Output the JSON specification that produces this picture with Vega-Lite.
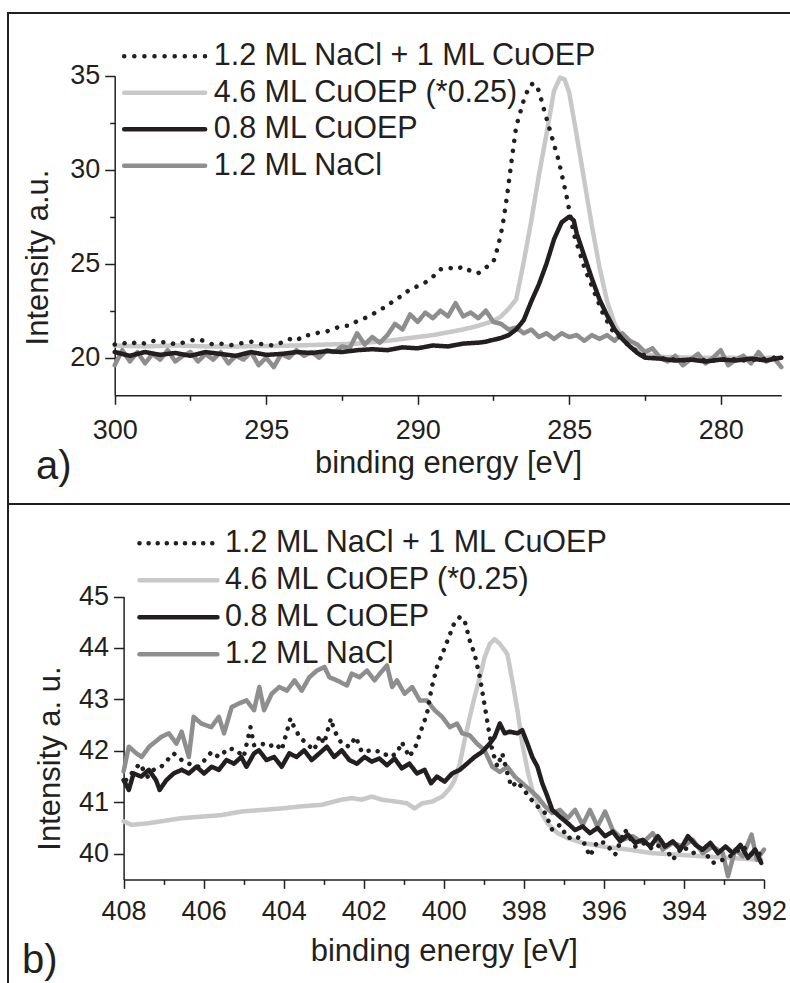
{
  "$schema": "https://vega.github.io/schema/vega-lite/v6.json",
  "padding": {"left": 7, "top": 12, "right": -9, "bottom": -12},
  "spacing": 0,
  "bounds": "flush",
  "config": {
    "font": "Liberation Sans",
    "view": {"stroke": "#231f20", "strokeWidth": 2},
    "axis": {
      "domainColor": "#231f20", "domainWidth": 1.5,
      "tickColor": "#231f20", "tickWidth": 1.5,
      "labelColor": "#231f20", "labelFontSize": 27,
      "titleColor": "#231f20", "titleFontSize": 31, "titleFontWeight": "normal",
      "grid": false, "labelFlush": false, "labelOverlap": false
    },
    "legend": {
      "title": null, "orient": "none", "symbolType": "M-5,0H5", "symbolStrokeWidth": 4.5,
      "labelFontSize": 30.5, "labelColor": "#231f20", "labelLimit": 0, "padding": 0
    },
    "line": {"strokeWidth": 4.5, "strokeCap": "round", "strokeJoin": "round"}
  },
  "resolve": {
    "scale": {"color": "independent", "strokeDash": "independent"},
    "legend": {"color": "independent", "strokeDash": "independent"}
  },
  "datasets": {
    "c1s_multi": [
      {"E":300,"I":20.65},{"E":299,"I":20.6},{"E":298,"I":20.65},{"E":297,"I":20.6},{"E":296,"I":20.6},{"E":295,"I":20.62},{"E":294,"I":20.65},{"E":293,"I":20.7},{"E":292,"I":20.75},{"E":291,"I":20.9},{"E":290,"I":21.1},{"E":289.5,"I":21.2},{"E":289,"I":21.35},{"E":288.5,"I":21.5},{"E":288,"I":21.7},{"E":287.5,"I":21.95},{"E":287.25,"I":22.2},{"E":287,"I":22.6},{"E":286.75,"I":23.1},{"E":286.5,"I":25.1},{"E":286.25,"I":27.3},{"E":286,"I":29.7},{"E":285.75,"I":31.9},{"E":285.5,"I":34.2},{"E":285.3,"I":34.9},{"E":285.15,"I":34.8},{"E":285,"I":34.1},{"E":284.75,"I":31.8},{"E":284.5,"I":29.4},{"E":284.25,"I":27},{"E":284,"I":24.8},{"E":283.75,"I":23},{"E":283.5,"I":21.8},{"E":283.25,"I":21.1},{"E":283,"I":20.6},{"E":282.5,"I":20.2},{"E":282,"I":20.05},{"E":281,"I":20},{"E":280,"I":20},{"E":279,"I":19.98},{"E":278,"I":20}
    ],
    "c1s_nacl": [
      {"E":300,"I":19.6},{"E":299.75,"I":20.4},{"E":299.5,"I":19.8},{"E":299.25,"I":20.3},{"E":299,"I":19.7},{"E":298.75,"I":20.2},{"E":298.5,"I":19.9},{"E":298.25,"I":20.4},{"E":298,"I":19.8},{"E":297.75,"I":20.1},{"E":297.5,"I":20.3},{"E":297.25,"I":19.8},{"E":297,"I":20.2},{"E":296.75,"I":19.9},{"E":296.5,"I":20.3},{"E":296.25,"I":19.7},{"E":296,"I":20.1},{"E":295.75,"I":19.9},{"E":295.5,"I":20.3},{"E":295.25,"I":19.6},{"E":295,"I":20},{"E":294.75,"I":19.5},{"E":294.5,"I":20.2},{"E":294.25,"I":20},{"E":294,"I":20.4},{"E":293.75,"I":20.1},{"E":293.5,"I":20.3},{"E":293.25,"I":20},{"E":293,"I":20.4},{"E":292.75,"I":20.3},{"E":292.5,"I":20.6},{"E":292.25,"I":20.5},{"E":292,"I":21.3},{"E":291.75,"I":20.7},{"E":291.5,"I":21.1},{"E":291.25,"I":20.8},{"E":291,"I":21.2},{"E":290.75,"I":21.8},{"E":290.5,"I":21.5},{"E":290.25,"I":22.3},{"E":290,"I":21.9},{"E":289.75,"I":22.4},{"E":289.5,"I":22.1},{"E":289.25,"I":22.5},{"E":289,"I":22.2},{"E":288.75,"I":22.9},{"E":288.5,"I":22.2},{"E":288.25,"I":22.4},{"E":288,"I":22.1},{"E":287.75,"I":22.5},{"E":287.5,"I":21.9},{"E":287.25,"I":21.8},{"E":287,"I":21.5},{"E":286.75,"I":21.6},{"E":286.5,"I":21.3},{"E":286.25,"I":21.5},{"E":286,"I":21.1},{"E":285.75,"I":21.3},{"E":285.5,"I":21},{"E":285.25,"I":21.3},{"E":285,"I":21.1},{"E":284.75,"I":21.2},{"E":284.5,"I":20.9},{"E":284.25,"I":21.2},{"E":284,"I":21},{"E":283.75,"I":21.2},{"E":283.5,"I":20.9},{"E":283.25,"I":21.3},{"E":283,"I":20.9},{"E":282.75,"I":20.7},{"E":282.5,"I":20.3},{"E":282.25,"I":20.5},{"E":282,"I":20},{"E":281.75,"I":19.8},{"E":281.5,"I":20.1},{"E":281.25,"I":19.6},{"E":281,"I":19.9},{"E":280.75,"I":20.2},{"E":280.5,"I":19.7},{"E":280.25,"I":20},{"E":280,"I":20.4},{"E":279.75,"I":19.6},{"E":279.5,"I":19.9},{"E":279.25,"I":20.1},{"E":279,"I":19.7},{"E":278.75,"I":20.3},{"E":278.5,"I":19.8},{"E":278.25,"I":20},{"E":278,"I":19.5}
    ],
    "c1s_mono": [
      {"E":300,"I":20.3},{"E":299.5,"I":20.1},{"E":299,"I":20.3},{"E":298.5,"I":20.15},{"E":298,"I":20.25},{"E":297.5,"I":20.1},{"E":297,"I":20.3},{"E":296.5,"I":20.2},{"E":296,"I":20.1},{"E":295.5,"I":20.3},{"E":295,"I":20.15},{"E":294.5,"I":20.2},{"E":294,"I":20.3},{"E":293.5,"I":20.25},{"E":293,"I":20.35},{"E":292.5,"I":20.3},{"E":292,"I":20.4},{"E":291.5,"I":20.45},{"E":291,"I":20.4},{"E":290.5,"I":20.55},{"E":290,"I":20.5},{"E":289.5,"I":20.65},{"E":289,"I":20.6},{"E":288.5,"I":20.75},{"E":288,"I":20.8},{"E":287.75,"I":20.85},{"E":287.5,"I":20.95},{"E":287.25,"I":21.05},{"E":287,"I":21.2},{"E":286.75,"I":21.5},{"E":286.5,"I":22},{"E":286.25,"I":23},{"E":286,"I":23.9},{"E":285.75,"I":25},{"E":285.5,"I":26.3},{"E":285.25,"I":27.2},{"E":285,"I":27.5},{"E":284.85,"I":27.3},{"E":284.75,"I":26.6},{"E":284.5,"I":25.4},{"E":284.25,"I":24.2},{"E":284,"I":23.1},{"E":283.75,"I":22.25},{"E":283.5,"I":21.5},{"E":283.25,"I":21},{"E":283,"I":20.6},{"E":282.75,"I":20.25},{"E":282.5,"I":20},{"E":282,"I":19.95},{"E":281.5,"I":19.85},{"E":281,"I":19.9},{"E":280.5,"I":19.8},{"E":280,"I":19.9},{"E":279.5,"I":19.85},{"E":279,"I":19.95},{"E":278.5,"I":19.85},{"E":278,"I":20}
    ],
    "c1s_mixed": [
      {"E":300,"I":20.7},{"E":299.75,"I":20.8},{"E":299.5,"I":20.7},{"E":299.25,"I":20.85},{"E":299,"I":20.75},{"E":298.75,"I":20.9},{"E":298.5,"I":20.8},{"E":298.25,"I":20.85},{"E":298,"I":20.7},{"E":297.75,"I":20.8},{"E":297.5,"I":20.9},{"E":297.25,"I":21},{"E":297,"I":20.85},{"E":296.75,"I":20.7},{"E":296.5,"I":20.75},{"E":296.25,"I":20.65},{"E":296,"I":20.7},{"E":295.75,"I":20.8},{"E":295.5,"I":20.85},{"E":295.25,"I":20.75},{"E":295,"I":20.7},{"E":294.75,"I":20.65},{"E":294.5,"I":20.8},{"E":294.25,"I":21},{"E":294,"I":20.9},{"E":293.75,"I":21.2},{"E":293.5,"I":21.2},{"E":293.25,"I":21.35},{"E":293,"I":21.4},{"E":292.75,"I":21.55},{"E":292.5,"I":21.7},{"E":292.25,"I":21.7},{"E":292,"I":21.95},{"E":291.75,"I":22.1},{"E":291.5,"I":22.3},{"E":291.25,"I":22.55},{"E":291,"I":22.75},{"E":290.75,"I":23.1},{"E":290.5,"I":23.3},{"E":290.25,"I":23.65},{"E":290,"I":23.8},{"E":289.75,"I":24},{"E":289.5,"I":24.3},{"E":289.25,"I":24.7},{"E":289,"I":24.8},{"E":288.75,"I":24.7},{"E":288.5,"I":24.85},{"E":288.25,"I":24.6},{"E":288,"I":24.5},{"E":287.75,"I":24.8},{"E":287.5,"I":25.1},{"E":287.35,"I":25.9},{"E":287.2,"I":27},{"E":287.05,"I":28.6},{"E":286.9,"I":30.5},{"E":286.75,"I":32.3},{"E":286.5,"I":33.7},{"E":286.3,"I":34.5},{"E":286.15,"I":34.6},{"E":286,"I":34.2},{"E":285.85,"I":33.3},{"E":285.6,"I":31.9},{"E":285.35,"I":30.5},{"E":285.1,"I":28.7},{"E":284.85,"I":26.6},{"E":284.5,"I":24.8},{"E":284.15,"I":23.4},{"E":283.9,"I":22.4},{"E":283.6,"I":21.5},{"E":283.15,"I":20.8},{"E":282.65,"I":20.2},{"E":282.25,"I":20},{"E":281.75,"I":19.95},{"E":281.25,"I":19.85},{"E":280.75,"I":19.9},{"E":280.25,"I":19.85},{"E":279.75,"I":19.95},{"E":279.25,"I":19.85},{"E":278.75,"I":19.9},{"E":278.25,"I":20},{"E":278,"I":19.95}
    ],
    "n1s_multi": [
      {"E":408,"I":40.63},{"E":407.8,"I":40.56},{"E":407.4,"I":40.59},{"E":407.06,"I":40.63},{"E":406.55,"I":40.69},{"E":406.06,"I":40.72},{"E":405.55,"I":40.75},{"E":405.05,"I":40.82},{"E":404.55,"I":40.85},{"E":404.05,"I":40.88},{"E":403.55,"I":40.92},{"E":403.05,"I":40.95},{"E":402.55,"I":41.05},{"E":402.3,"I":41.08},{"E":402.05,"I":41.05},{"E":401.8,"I":41.11},{"E":401.55,"I":41.05},{"E":401.17,"I":41.01},{"E":400.92,"I":40.98},{"E":400.73,"I":40.88},{"E":400.54,"I":40.98},{"E":400.3,"I":41.01},{"E":400.04,"I":41.11},{"E":399.85,"I":41.27},{"E":399.73,"I":41.43},{"E":399.6,"I":41.75},{"E":399.48,"I":42.21},{"E":399.35,"I":42.66},{"E":399.23,"I":43.05},{"E":399.1,"I":43.43},{"E":398.98,"I":43.82},{"E":398.85,"I":44.08},{"E":398.73,"I":44.17},{"E":398.6,"I":44.08},{"E":398.41,"I":43.88},{"E":398.29,"I":43.37},{"E":398.16,"I":42.79},{"E":398.04,"I":42.14},{"E":397.91,"I":41.63},{"E":397.79,"I":41.24},{"E":397.6,"I":40.85},{"E":397.41,"I":40.59},{"E":397.16,"I":40.4},{"E":396.9,"I":40.3},{"E":396.53,"I":40.21},{"E":396.03,"I":40.14},{"E":395.4,"I":40.08},{"E":394.78,"I":40.01},{"E":394.15,"I":39.98},{"E":393.53,"I":39.95},{"E":392.9,"I":39.92},{"E":392.07,"I":39.88}
    ],
    "n1s_nacl": [
      {"E":408,"I":41.6},{"E":407.87,"I":42.08},{"E":407.68,"I":41.95},{"E":407.55,"I":41.88},{"E":407.36,"I":42.08},{"E":407.06,"I":42.27},{"E":406.87,"I":42.34},{"E":406.68,"I":42.14},{"E":406.55,"I":42.37},{"E":406.37,"I":41.88},{"E":406.25,"I":42.66},{"E":406.06,"I":42.53},{"E":405.81,"I":42.46},{"E":405.62,"I":42.66},{"E":405.49,"I":42.34},{"E":405.3,"I":42.85},{"E":405.12,"I":42.92},{"E":404.93,"I":42.98},{"E":404.74,"I":42.79},{"E":404.61,"I":43.24},{"E":404.49,"I":42.79},{"E":404.3,"I":43.11},{"E":404.11,"I":43.24},{"E":403.92,"I":43.17},{"E":403.73,"I":43.37},{"E":403.55,"I":43.17},{"E":403.36,"I":43.43},{"E":403.17,"I":43.56},{"E":402.98,"I":43.63},{"E":402.86,"I":43.43},{"E":402.67,"I":43.37},{"E":402.42,"I":43.27},{"E":402.3,"I":43.5},{"E":402.11,"I":43.43},{"E":401.92,"I":43.56},{"E":401.73,"I":43.37},{"E":401.6,"I":43.5},{"E":401.42,"I":43.66},{"E":401.29,"I":43.24},{"E":401.17,"I":43.37},{"E":400.98,"I":43.11},{"E":400.79,"I":43.24},{"E":400.6,"I":42.98},{"E":400.42,"I":42.98},{"E":400.23,"I":42.79},{"E":400.04,"I":42.66},{"E":399.85,"I":42.46},{"E":399.67,"I":42.53},{"E":399.54,"I":42.34},{"E":399.35,"I":42.3},{"E":399.17,"I":42.14},{"E":398.98,"I":42.01},{"E":398.79,"I":41.69},{"E":398.6,"I":41.59},{"E":398.41,"I":41.69},{"E":398.23,"I":41.5},{"E":398.04,"I":41.37},{"E":397.85,"I":41.24},{"E":397.66,"I":41.11},{"E":397.47,"I":40.92},{"E":397.29,"I":40.79},{"E":397.1,"I":40.85},{"E":396.9,"I":40.69},{"E":396.72,"I":40.85},{"E":396.53,"I":40.56},{"E":396.35,"I":40.85},{"E":396.16,"I":40.53},{"E":395.97,"I":40.82},{"E":395.78,"I":40.46},{"E":395.53,"I":40.27},{"E":395.28,"I":40.34},{"E":395.03,"I":40.21},{"E":394.78,"I":40.4},{"E":394.53,"I":40.08},{"E":394.28,"I":40.21},{"E":394.03,"I":40.14},{"E":393.78,"I":40.27},{"E":393.53,"I":40.01},{"E":393.28,"I":40.14},{"E":393.03,"I":40.01},{"E":392.9,"I":39.56},{"E":392.72,"I":40.08},{"E":392.53,"I":39.95},{"E":392.31,"I":40.37},{"E":392.18,"I":39.88},{"E":392,"I":40.08}
    ],
    "n1s_mono": [
      {"E":408,"I":41.43},{"E":407.87,"I":41.24},{"E":407.75,"I":41.56},{"E":407.56,"I":41.5},{"E":407.37,"I":41.63},{"E":407.19,"I":41.43},{"E":407.1,"I":41.24},{"E":406.93,"I":41.43},{"E":406.75,"I":41.56},{"E":406.55,"I":41.63},{"E":406.37,"I":41.56},{"E":406.18,"I":41.69},{"E":405.99,"I":41.56},{"E":405.8,"I":41.69},{"E":405.62,"I":41.63},{"E":405.43,"I":41.82},{"E":405.24,"I":41.75},{"E":405.06,"I":41.88},{"E":404.93,"I":41.69},{"E":404.74,"I":41.95},{"E":404.62,"I":42.01},{"E":404.43,"I":41.82},{"E":404.24,"I":41.88},{"E":404.05,"I":41.69},{"E":403.86,"I":41.95},{"E":403.68,"I":41.88},{"E":403.49,"I":42.01},{"E":403.3,"I":41.82},{"E":403.11,"I":41.95},{"E":402.92,"I":42.08},{"E":402.74,"I":41.88},{"E":402.55,"I":42.01},{"E":402.36,"I":41.82},{"E":402.17,"I":41.75},{"E":401.98,"I":41.88},{"E":401.8,"I":41.79},{"E":401.61,"I":41.85},{"E":401.42,"I":41.72},{"E":401.23,"I":41.85},{"E":401.05,"I":41.66},{"E":400.86,"I":41.75},{"E":400.67,"I":41.56},{"E":400.48,"I":41.63},{"E":400.32,"I":41.37},{"E":400.17,"I":41.5},{"E":399.98,"I":41.4},{"E":399.79,"I":41.56},{"E":399.6,"I":41.63},{"E":399.42,"I":41.75},{"E":399.23,"I":41.88},{"E":399.04,"I":41.98},{"E":398.85,"I":42.14},{"E":398.73,"I":42.27},{"E":398.6,"I":42.53},{"E":398.48,"I":42.34},{"E":398.35,"I":42.37},{"E":398.16,"I":42.34},{"E":398.04,"I":42.4},{"E":397.91,"I":42.14},{"E":397.79,"I":41.88},{"E":397.66,"I":41.69},{"E":397.54,"I":41.37},{"E":397.41,"I":41.11},{"E":397.29,"I":40.85},{"E":397.1,"I":40.72},{"E":396.9,"I":40.59},{"E":396.72,"I":40.46},{"E":396.53,"I":40.53},{"E":396.35,"I":40.4},{"E":396.16,"I":40.5},{"E":395.97,"I":40.34},{"E":395.78,"I":40.43},{"E":395.59,"I":40.24},{"E":395.4,"I":40.37},{"E":395.22,"I":40.21},{"E":395.03,"I":40.27},{"E":394.84,"I":40.14},{"E":394.65,"I":40.34},{"E":394.47,"I":40.14},{"E":394.28,"I":40.24},{"E":394.09,"I":40.08},{"E":393.9,"I":40.34},{"E":393.71,"I":40.17},{"E":393.53,"I":40.08},{"E":393.34,"I":40.21},{"E":393.15,"I":40.01},{"E":392.96,"I":40.14},{"E":392.78,"I":40.01},{"E":392.59,"I":40.17},{"E":392.4,"I":39.92},{"E":392.22,"I":40.08},{"E":392.07,"I":39.82}
    ],
    "n1s_mixed": [
      {"E":407.94,"I":41.43},{"E":407.8,"I":41.56},{"E":407.6,"I":41.75},{"E":407.4,"I":41.5},{"E":407.25,"I":41.63},{"E":407.06,"I":41.69},{"E":406.87,"I":41.85},{"E":406.75,"I":41.95},{"E":406.55,"I":41.82},{"E":406.37,"I":41.75},{"E":406.12,"I":41.69},{"E":405.8,"I":41.98},{"E":405.62,"I":41.88},{"E":405.37,"I":42.05},{"E":405.18,"I":42.01},{"E":405,"I":41.88},{"E":404.83,"I":42.46},{"E":404.74,"I":42.11},{"E":404.55,"I":42.14},{"E":404.37,"I":42.08},{"E":404.2,"I":42.14},{"E":404.05,"I":42.01},{"E":403.83,"I":42.63},{"E":403.74,"I":42.46},{"E":403.6,"I":42.27},{"E":403.43,"I":42.14},{"E":403.24,"I":42.01},{"E":403.1,"I":42.3},{"E":402.99,"I":42.14},{"E":402.82,"I":42.63},{"E":402.74,"I":42.4},{"E":402.55,"I":42.14},{"E":402.36,"I":42.08},{"E":402.2,"I":42.27},{"E":402.05,"I":41.98},{"E":401.8,"I":42.01},{"E":401.55,"I":41.98},{"E":401.36,"I":41.88},{"E":401.17,"I":41.95},{"E":401.05,"I":42.17},{"E":400.86,"I":41.88},{"E":400.69,"I":42.11},{"E":400.54,"I":42.46},{"E":400.42,"I":42.72},{"E":400.3,"I":43.24},{"E":400.17,"I":43.63},{"E":400.04,"I":43.88},{"E":399.88,"I":44.2},{"E":399.75,"I":44.46},{"E":399.6,"I":44.6},{"E":399.48,"I":44.53},{"E":399.35,"I":44.14},{"E":399.23,"I":43.88},{"E":399.1,"I":43.43},{"E":399,"I":42.98},{"E":398.89,"I":42.46},{"E":398.79,"I":42.01},{"E":398.66,"I":41.69},{"E":398.54,"I":41.95},{"E":398.41,"I":41.56},{"E":398.31,"I":41.3},{"E":398.16,"I":41.4},{"E":397.97,"I":41.21},{"E":397.81,"I":41.05},{"E":397.66,"I":40.92},{"E":397.47,"I":40.79},{"E":397.29,"I":40.46},{"E":397.1,"I":40.56},{"E":396.9,"I":40.3},{"E":396.72,"I":40.34},{"E":396.53,"I":40.27},{"E":396.35,"I":39.95},{"E":396.16,"I":40.24},{"E":395.97,"I":40.21},{"E":395.72,"I":39.98},{"E":395.47,"I":40.46},{"E":395.22,"I":40.14},{"E":394.97,"I":40.21},{"E":394.78,"I":40.08},{"E":394.53,"I":40.21},{"E":394.28,"I":39.88},{"E":394.03,"I":40.14},{"E":393.78,"I":40.01},{"E":393.53,"I":40.08},{"E":393.28,"I":39.82},{"E":393.03,"I":39.88},{"E":392.78,"I":39.98},{"E":392.53,"I":40.14},{"E":392.27,"I":39.95},{"E":392.07,"I":40.01}
    ]
  },
  "vconcat": [
    {
      "width": 790,
      "height": 491,
      "title": {
        "text": "a)", "orient": "bottom", "anchor": "start", "frame": "group",
        "offset": -25, "dx": 28, "fontSize": 40, "fontWeight": "normal",
        "baseline": "alphabetic", "color": "#231f20"
      },
      "encoding": {
        "x": {
          "field": "E", "type": "quantitative",
          "scale": {"domain": [300, 278], "range": [106.7, 773.3], "nice": false, "zero": false},
          "axis": {
            "orient": "bottom", "offset": -108.7,
            "values": [300, 297.5, 295, 292.5, 290, 287.5, 285, 282.5, 280],
            "tickSize": {"condition": {"test": "datum.value % 5 !== 0", "value": 5}, "value": 9},
            "labelExpr": "datum.value % 5 === 0 ? datum.label : ''",
            "labelPadding": 13,
            "title": "binding energy [eV]", "titleY": 76.7, "titleBaseline": "alphabetic"
          }
        },
        "y": {
          "field": "I", "type": "quantitative",
          "scale": {"domain": [18, 35], "range": [382.3, 62.7], "nice": false, "zero": false},
          "axis": {
            "orient": "left", "offset": -106.7, "format": "d",
            "values": [20, 22.5, 25, 27.5, 30, 32.5, 35],
            "tickSize": {"condition": {"test": "datum.value % 5 !== 0", "value": 5}, "value": 10},
            "labelExpr": "datum.value % 5 === 0 ? datum.label : ''",
            "labelPadding": 5,
            "title": "Intensity a.u.", "titleX": -76.7, "titleY": 244,
            "titleAngle": -90, "titleAlign": "center", "titleBaseline": "middle"
          }
        }
      },
      "layer": [
        {
          "data": {"name": "c1s_multi"},
          "mark": {"type": "line"},
          "encoding": {
            "color": {
              "datum": "4.6 ML CuOEP (*0.25)", "type": "nominal",
              "scale": {
                "domain": ["1.2 ML NaCl + 1 ML CuOEP", "4.6 ML CuOEP (*0.25)", "0.8 ML CuOEP", "1.2 ML NaCl"],
                "range": ["#231f20", "#c8c8c8", "#231f20", "#8e8e8e"]
              },
              "legend": {
                "legendX": 109, "legendY": 28, "symbolSize": 262.4, "symbolOffset": 32.4,
                "labelOffset": 33.8, "rowPadding": 5.5,
                "encoding": {"symbols": {"strokeCap": {"value": "round"}}}
              }
            },
            "strokeDash": {
              "datum": "4.6 ML CuOEP (*0.25)", "type": "nominal",
              "scale": {
                "domain": ["1.2 ML NaCl + 1 ML CuOEP", "4.6 ML CuOEP (*0.25)", "0.8 ML CuOEP", "1.2 ML NaCl"],
                "range": [[0.1, 10], [1, 0], [1, 0], [1, 0]]
              },
              "legend": {
                "legendX": 109, "legendY": 28, "symbolSize": 262.4, "symbolOffset": 32.4,
                "labelOffset": 33.8, "rowPadding": 5.5,
                "encoding": {"symbols": {"strokeCap": {"value": "round"}}}
              }
            }
          }
        },
        {
          "data": {"name": "c1s_nacl"},
          "mark": {"type": "line"},
          "encoding": {
            "color": {"datum": "1.2 ML NaCl", "type": "nominal"},
            "strokeDash": {"datum": "1.2 ML NaCl", "type": "nominal"}
          }
        },
        {
          "data": {"name": "c1s_mono"},
          "mark": {"type": "line"},
          "encoding": {
            "color": {"datum": "0.8 ML CuOEP", "type": "nominal"},
            "strokeDash": {"datum": "0.8 ML CuOEP", "type": "nominal"}
          }
        },
        {
          "data": {"name": "c1s_mixed"},
          "mark": {"type": "line"},
          "encoding": {
            "color": {"datum": "1.2 ML NaCl + 1 ML CuOEP", "type": "nominal"},
            "strokeDash": {"datum": "1.2 ML NaCl + 1 ML CuOEP", "type": "nominal"}
          }
        }
      ]
    },
    {
      "width": 790,
      "height": 490,
      "title": {
        "text": "b)", "orient": "bottom", "anchor": "start", "frame": "group",
        "offset": -21, "dx": 14, "fontSize": 40, "fontWeight": "normal",
        "baseline": "alphabetic", "color": "#231f20"
      },
      "encoding": {
        "x": {
          "field": "E", "type": "quantitative",
          "scale": {"domain": [408, 392], "range": [115.6, 756], "nice": false, "zero": false},
          "axis": {
            "orient": "bottom", "offset": -114.6,
            "values": [408, 407, 406, 405, 404, 403, 402, 401, 400, 399, 398, 397, 396, 395, 394, 393, 392],
            "tickSize": {"condition": {"test": "datum.value % 2 !== 0", "value": 5}, "value": 9},
            "labelExpr": "datum.value % 2 === 0 ? datum.label : ''",
            "labelPadding": 10,
            "title": "binding energy [eV]", "titleY": 80.6, "titleBaseline": "alphabetic"
          }
        },
        "y": {
          "field": "I", "type": "quantitative",
          "scale": {"domain": [39.5, 45], "range": [375.4, 92.5], "nice": false, "zero": false},
          "axis": {
            "orient": "left", "offset": -115.6, "format": "d",
            "values": [40, 40.5, 41, 41.5, 42, 42.5, 43, 43.5, 44, 44.5, 45],
            "tickSize": {"condition": {"test": "datum.value % 1 !== 0", "value": 5}, "value": 10},
            "labelExpr": "datum.value % 1 === 0 ? datum.label : ''",
            "labelPadding": 5,
            "title": "Intensity a. u.", "titleX": -73.6, "titleY": 254,
            "titleAngle": -90, "titleAlign": "center", "titleBaseline": "middle"
          }
        }
      },
      "layer": [
        {
          "data": {"name": "n1s_multi"},
          "mark": {"type": "line"},
          "encoding": {
            "color": {
              "datum": "4.6 ML CuOEP (*0.25)", "type": "nominal",
              "scale": {
                "domain": ["1.2 ML NaCl + 1 ML CuOEP", "4.6 ML CuOEP (*0.25)", "0.8 ML CuOEP", "1.2 ML NaCl"],
                "range": ["#231f20", "#c8c8c8", "#231f20", "#8e8e8e"]
              },
              "legend": {
                "legendX": 124, "legendY": 24, "symbolSize": 243.4, "symbolOffset": 31.2,
                "labelOffset": 31.4, "rowPadding": 6,
                "encoding": {"symbols": {"strokeCap": {"value": "round"}}}
              }
            },
            "strokeDash": {
              "datum": "4.6 ML CuOEP (*0.25)", "type": "nominal",
              "scale": {
                "domain": ["1.2 ML NaCl + 1 ML CuOEP", "4.6 ML CuOEP (*0.25)", "0.8 ML CuOEP", "1.2 ML NaCl"],
                "range": [[0.1, 9], [1, 0], [1, 0], [1, 0]]
              },
              "legend": {
                "legendX": 124, "legendY": 24, "symbolSize": 243.4, "symbolOffset": 31.2,
                "labelOffset": 31.4, "rowPadding": 6,
                "encoding": {"symbols": {"strokeCap": {"value": "round"}}}
              }
            }
          }
        },
        {
          "data": {"name": "n1s_nacl"},
          "mark": {"type": "line"},
          "encoding": {
            "color": {"datum": "1.2 ML NaCl", "type": "nominal"},
            "strokeDash": {"datum": "1.2 ML NaCl", "type": "nominal"}
          }
        },
        {
          "data": {"name": "n1s_mono"},
          "mark": {"type": "line"},
          "encoding": {
            "color": {"datum": "0.8 ML CuOEP", "type": "nominal"},
            "strokeDash": {"datum": "0.8 ML CuOEP", "type": "nominal"}
          }
        },
        {
          "data": {"name": "n1s_mixed"},
          "mark": {"type": "line"},
          "encoding": {
            "color": {"datum": "1.2 ML NaCl + 1 ML CuOEP", "type": "nominal"},
            "strokeDash": {"datum": "1.2 ML NaCl + 1 ML CuOEP", "type": "nominal"}
          }
        }
      ]
    }
  ]
}
